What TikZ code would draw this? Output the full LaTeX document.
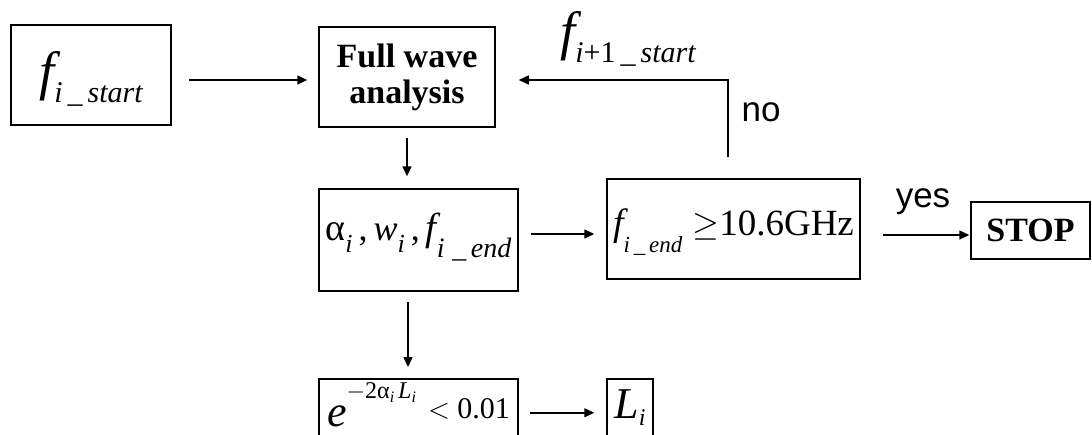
\documentclass[tikz,border=0pt]{standalone}
\usepackage{fontspec}
\setmainfont{Liberation Serif}
\newfontfamily\arialfont{Liberation Sans}
\usetikzlibrary{arrows.meta}
\newcommand{\fsz}[1]{\fontsize{#1}{#1}\selectfont}
\newcommand{\lowsub}[3]{\raisebox{-#1}{\fsz{#2}\itshape #3}}

\begin{document}
\begin{tikzpicture}[x=0.5pt, y=-0.5pt,
    box/.style={draw, line width=0.75pt, inner sep=3pt},
    arr/.style={-{Triangle[length=5pt,width=4.5pt]}, line width=0.75pt},
    lbl/.style={font=\arialfont\fsz{17.5}}]
                \useasboundingbox (0,0) rectangle (1092,434);
                \node[box, minimum width=80pt, text height=29pt, text depth=15pt] (fstart) at (91,75)
                    {{\fsz{27}\itshape f}\lowsub{6.5pt}{15}{i\,\_\,start}};
                \node[box, minimum width=88pt, minimum height=50pt, align=center,
                      font=\bfseries\fontsize{17}{18}\selectfont] (fullwave) at (407,77) {Full wave\\analysis};
                \node[box, minimum width=99.5pt, text height=22.5pt, text depth=22.5pt] (params) at (418.5,240)
                    {{\fsz{19}α}\lowsub{6pt}{13}{i}{\fsz{18}\,,\,}{\fsz{18}\itshape w}\lowsub{6pt}{13}{i}{\fsz{18}\,,\,}{\fsz{19.5}\itshape f}\lowsub{8.5pt}{14}{i\;\_\,end}};
                \node[box, minimum width=126.5pt, text height=25pt, text depth=19pt] (fend) at (733.5,229)
                    {{\fsz{19}\itshape f}\lowsub{8.5pt}{11.5}{i\,\_\,end}\hspace{5pt}{\fsz{18.5}$\geq$10.6GHz}};
                \node[box, minimum width=59.5pt, minimum height=28.5pt,
                      font=\bfseries\fsz{17}] (stop) at (1030.5,230.5) {STOP};
                \node[box, anchor=north, minimum width=99.5pt, text height=21pt, text depth=30pt] (cond) at (418.5,378)
                    {{\fsz{22}\itshape e}\raisebox{14pt}{\fsz{12}$-$2α\lowsub{2pt}{8}{i}\,{\itshape L}\lowsub{2pt}{8}{i}}\hspace{6pt}\raisebox{4pt}{\fsz{15}$<$ 0.01}};
                \node[box, anchor=north, minimum width=23pt, text height=17pt, text depth=30pt] (Li) at (630,378)
                    {{\fsz{22}\itshape L}\lowsub{3.5pt}{12}{i}};
                \node[anchor=base] (fnext) at (628,49) {{\fsz{27}\itshape f}\lowsub{6.5pt}{15}{i{\upshape +1}\,\_\,start}};
                \node[lbl, anchor=base] (no) at (761,121) {no};
                \node[lbl, anchor=base] (yes) at (923,207) {yes};
                \coordinate (loop) at (728,157);
                \draw[arr, shorten <=8.5pt, shorten >=5.5pt] ([yshift=-2.5pt]fstart.east) -- ([yshift=-1.5pt]fullwave.west);
                \draw[arr, shorten <=5pt, shorten >=6pt] (fullwave.south) -- (fullwave.south |- params.north);
                \draw[arr, shorten <=5pt, shorten >=5.5pt] ([xshift=-5.25pt]params.south) -- ([xshift=-5.25pt]cond.north);
                \draw[arr, shorten <=6pt, shorten >=6pt] ([yshift=3pt]params.east) -- ([yshift=-2.5pt]fend.west);
                \draw[arr, shorten <=11pt, shorten >=0.5pt] ([yshift=-3pt]fend.east) -- ([yshift=-2.25pt]stop.west);
                \draw[arr, shorten <=5.5pt, shorten >=6pt] ([yshift=7pt]cond.base east) -- ([yshift=3pt]Li.base west);
                \draw[arr, shorten >=11.5pt] (loop) |- ([yshift=-1.5pt]fullwave.east);
\end{tikzpicture}
\end{document}
